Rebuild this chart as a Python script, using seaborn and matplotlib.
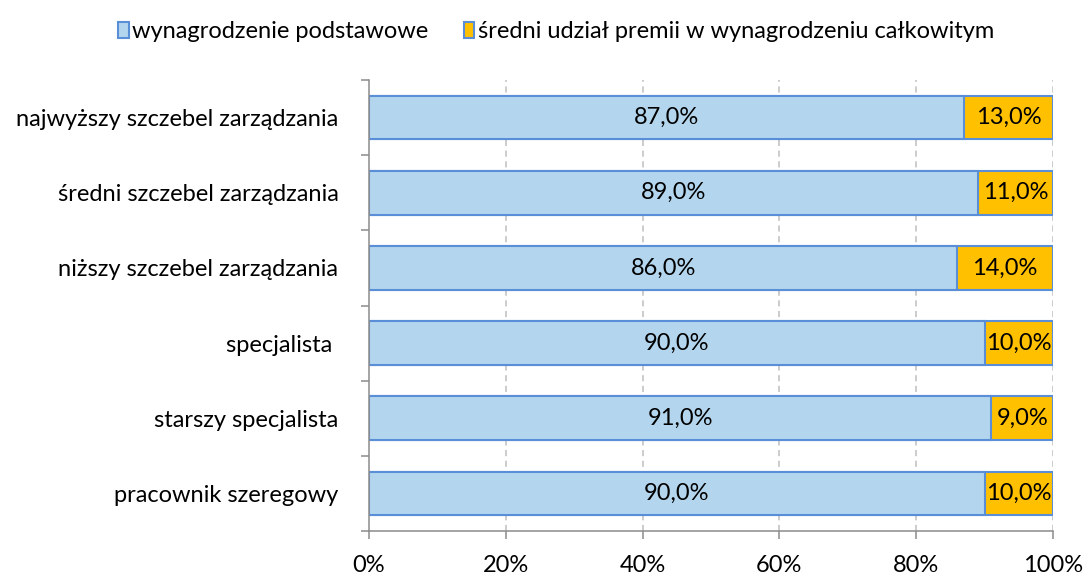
import numpy as np
import pandas as pd
import matplotlib as mpl
import matplotlib.pyplot as plt
import matplotlib.ticker as ticker
from matplotlib.patches import Patch
import seaborn as sns

# data
categories = ['najwyższy szczebel zarządzania', 'średni szczebel zarządzania',
              'niższy szczebel zarządzania', 'specjalista ', 'starszy specjalista',
              'pracownik szeregowy']
base_pay = [87.0, 89.0, 86.0, 90.0, 91.0, 90.0]
bonus_share = [13.0, 11.0, 14.0, 10.0, 9.0, 10.0]
series_names = ['wynagrodzenie podstawowe', 'średni udział premii w wynagrodzeniu całkowitym']
x_ticks = [0, 20, 40, 60, 80, 100]

sns.set_style('white')
plt.rcParams['font.family'] = ['Lato', 'DejaVu Sans']
mpl.rcParams['font.size'] = 17
mpl.rcParams['text.color'] = 'black'
mpl.rcParams['xtick.labelcolor'] = 'black'
mpl.rcParams['ytick.labelcolor'] = 'black'

blue = '#B3D6EE'
edge = '#5A8FD8'
gold = '#FFC000'
grey = '#8C8C8C'

df = pd.DataFrame({'cat': categories, 'base': base_pay, 'bonus': bonus_share})
df['total'] = df['base'] + df['bonus']

fig = plt.figure(figsize=(10.86, 5.87), dpi=100)
ax = fig.add_axes([0.3398, 0.0954, 0.6298, 0.7683])

# stacked: full bar in gold, base part drawn on top in blue
sns.barplot(data=df, y='cat', x='total', color=gold, orient='h', width=0.58,
            edgecolor=edge, linewidth=1.5, saturation=1, ax=ax, zorder=2)
sns.barplot(data=df, y='cat', x='base', color=blue, orient='h', width=0.58,
            edgecolor=edge, linewidth=1.5, saturation=1, ax=ax, zorder=3)

for i, (b, p) in enumerate(zip(df['base'], df['bonus'])):
    ax.text(b / 2, i, f'{b:.1f}%'.replace('.', ','), ha='center', va='center',
            fontsize=17, zorder=5)
    ax.text(b + p / 2, i, f'{p:.1f}%'.replace('.', ','), ha='center', va='center',
            fontsize=17, zorder=5)

ax.set_xlim(0, 100)
ax.set_ylim(len(categories) - 0.5, -0.5)
ax.set_xticks(x_ticks)
ax.xaxis.set_major_formatter(ticker.FuncFormatter(lambda v, pos: f'{v:.0f}%'))
ax.set_yticks(range(len(categories)))
ax.set_yticks(np.arange(-0.5, len(categories), 1.0), minor=True)
ax.tick_params(axis='y', which='major', length=0, pad=22, labelsize=17)
ax.tick_params(axis='y', which='minor', length=5.5, width=1.1, color=grey, direction='out', left=True)
ax.tick_params(axis='x', which='major', length=6, width=1.1, color=grey, direction='out',
               bottom=True, pad=11, labelsize=17)
ax.set_xlabel('')
ax.set_ylabel('')

ax.grid(False)
for v in x_ticks[1:]:
    ax.axvline(v, color='#BFBFBF', linestyle=(0, (4, 3)), linewidth=1.1, zorder=1)

for s in ['top', 'right']:
    ax.spines[s].set_visible(False)
for s in ['left', 'bottom']:
    ax.spines[s].set_color(grey)
    ax.spines[s].set_linewidth(1.1)
    ax.spines[s].set_zorder(4)

handles = [Patch(facecolor=blue, edgecolor=edge, linewidth=1.5),
           Patch(facecolor=gold, edgecolor=edge, linewidth=1.5)]
fig.legend(handles, series_names, loc='upper center', bbox_to_anchor=(0.512, 1.0),
           ncol=2, frameon=False, fontsize=17, handlelength=0.45, handleheight=0.7,
           handletextpad=0.15, columnspacing=1.5)

plt.savefig('out.png', dpi=100)
